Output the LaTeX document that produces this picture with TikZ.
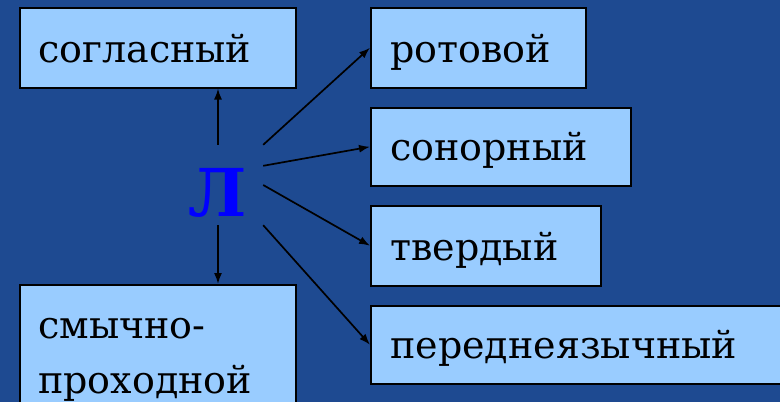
\documentclass[tikz,border=0pt]{standalone}
\usepackage{fontspec}
\setmainfont{DejaVu Serif}
\usetikzlibrary{arrows.meta}
\definecolor{bgblue}{RGB}{30,74,145}
\definecolor{boxblue}{RGB}{153,204,255}
\definecolor{letterblue}{RGB}{0,0,255}
\tikzset{
  boxnode/.style={draw=black, line width=1.5pt, fill=boxblue, anchor=north west, inner sep=0pt},
  wordnode/.style={anchor=base west, inner sep=0pt, font=\fontsize{38}{55}\selectfont, text=black},
  conn/.style={draw=black, line width=1.7pt, -{Latex[length=11pt,width=8pt]}}
}
\begin{document}
\begin{tikzpicture}[x=1pt,y=-1pt]
\fill[bgblue] (0,0) rectangle (780,402);
\useasboundingbox (0,0) rectangle (780,402);
\clip (0,0) rectangle (780,402);
% boxes
\node[boxnode, minimum width=276pt, minimum height=80pt] (sogl) at (19,7) {};
\node[boxnode, minimum width=215pt, minimum height=80pt] (rot) at (370,7) {};
\node[boxnode, minimum width=260pt, minimum height=78pt] (son) at (370,107) {};
\node[boxnode, minimum width=230pt, minimum height=80pt] (tv) at (370,205) {};
\node[boxnode, minimum width=440pt, minimum height=78pt] (per) at (370,305) {};
\node[boxnode, minimum width=276pt, minimum height=140pt] (smy) at (19,284) {};
% texts
\node[wordnode] (tsogl) at (38,62) {согласный};
\node[wordnode] (trot) at (390,62) {ротовой};
\node[wordnode] (tson) at (390,160) {сонорный};
\node[wordnode] (ttv) at (390,260) {твердый};
\node[wordnode] (tper) at (390,358) {переднеязычный};
\node[wordnode] (tsmy1) at (38,338) {смычно-};
\node[wordnode] (tsmy2) at (38,393) {проходной};
% central letter
\node[inner sep=0pt, minimum width=90pt, minimum height=80pt, text height=71pt, text depth=9pt,
      font=\bfseries\fontsize{66}{66}\selectfont, text=letterblue] (L) at (218,185) {Л};
% connectors
\draw[conn] (L.north) -- (L.north |- sogl.south);
\draw[conn] (L.south) -- (L.south |- smy.north);
\draw[conn] (L.north east) -- (rot.west);
\draw[conn] ([yshift=-21pt]L.north east) -- (son.west);
\draw[conn] (L.east) -- (tv.west);
\draw[conn] (L.south east) -- (per.west);
\end{tikzpicture}
\end{document}
